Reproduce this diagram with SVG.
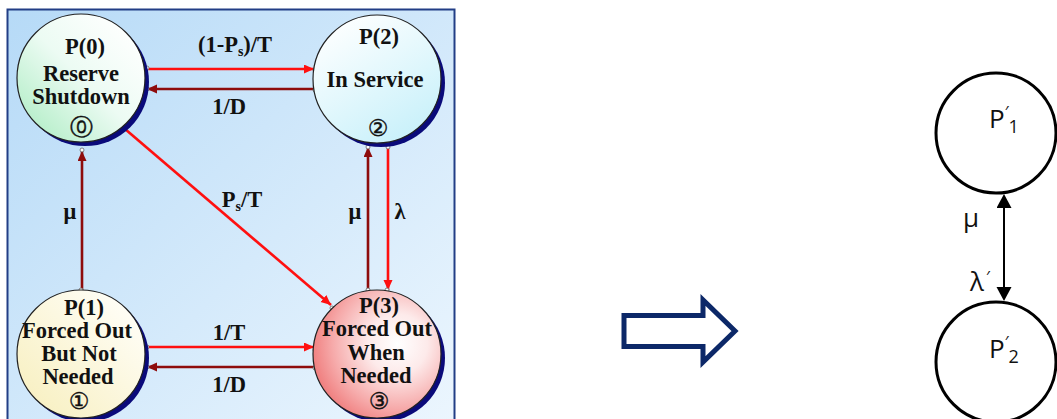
<svg xmlns="http://www.w3.org/2000/svg" width="1057" height="419" viewBox="0 0 1057 419">
<style>
.nt{font-family:"Liberation Serif",serif;font-weight:bold;font-size:22.5px;text-anchor:middle;fill:#111}
.cd{font-family:"DejaVu Sans",sans-serif;font-size:23px;text-anchor:middle;fill:#111;stroke:#111;stroke-width:0.4}
.ring{stroke:#222;stroke-width:1.2}
.shadow{fill:#0a0a7a}
.red{stroke:#ff1010;stroke-width:2.6;fill:none}
.dred{stroke:#8e0c0c;stroke-width:2.6;fill:none}
.pt{fill:#fff;stroke:#666;stroke-width:0.8}
.rt{font-family:"Open Sans","Liberation Sans",sans-serif;fill:#111}
.rn{fill:#fff;stroke:#000;stroke-width:3}
</style>
<defs>
<linearGradient id="bg" x1="0" y1="0" x2="1" y2="1">
<stop offset="0" stop-color="#b6daf7"/><stop offset="1" stop-color="#ecf6fe"/>
</linearGradient>
<linearGradient id="g0" x1="0.1" y1="0.9" x2="0.9" y2="0.1">
<stop offset="0" stop-color="#b4eec8"/><stop offset="0.5" stop-color="#ecfbf3"/><stop offset="1" stop-color="#ffffff"/>
</linearGradient>
<linearGradient id="g2" x1="0.2" y1="0" x2="0.8" y2="1">
<stop offset="0" stop-color="#ffffff"/><stop offset="1" stop-color="#c6f0fa"/>
</linearGradient>
<linearGradient id="g1" x1="0.1" y1="0.9" x2="0.9" y2="0.1">
<stop offset="0" stop-color="#f8f0c2"/><stop offset="1" stop-color="#fffef8"/>
</linearGradient>
<radialGradient id="g3" cx="0.66" cy="0.42" r="0.78">
<stop offset="0" stop-color="#ffffff"/><stop offset="0.3" stop-color="#fdeaea"/><stop offset="0.65" stop-color="#f6aaaa"/><stop offset="1" stop-color="#ec6464"/>
</radialGradient>
<marker id="mr" markerUnits="userSpaceOnUse" markerWidth="11" markerHeight="10" refX="10" refY="4.5" orient="auto">
<path d="M0,0 L10,4.5 L0,9 z" fill="#ff1010"/>
</marker>
<marker id="md" markerUnits="userSpaceOnUse" markerWidth="11" markerHeight="10" refX="10" refY="4.5" orient="auto">
<path d="M0,0 L10,4.5 L0,9 z" fill="#8e0c0c"/>
</marker>
<marker id="mb" markerUnits="userSpaceOnUse" markerWidth="15" markerHeight="16" refX="12" refY="7.5" orient="auto-start-reverse">
<path d="M0,0 L14,7.5 L0,15 z" fill="#000"/>
</marker>
</defs>

<rect x="0" y="0" width="1057" height="419" fill="#fff"/>
<rect id="panel" x="7.5" y="9.5" width="447" height="420" fill="url(#bg)" stroke="#223e86" stroke-width="2"/>

<g id="connectors">
<path class="red" d="M147,69 L314,69" marker-end="url(#mr)"/>
<path class="dred" d="M314,89 L147,89" marker-end="url(#md)"/>
<path class="red" d="M125,129 L331,305" marker-end="url(#mr)"/>
<path class="dred" d="M82,290 L82,151" marker-end="url(#md)"/>
<path class="dred" d="M368,290 L368,147" marker-end="url(#md)"/>
<path class="red" d="M388,147 L388,290" marker-end="url(#mr)"/>
<path class="red" d="M146,347 L314,347" marker-end="url(#mr)"/>
<path class="dred" d="M314,367 L147,367" marker-end="url(#md)"/>
<g>
<circle class="pt" cx="147" cy="68" r="2"/><circle class="pt" cx="147" cy="89" r="2"/>
<circle class="pt" cx="315" cy="70" r="2"/><circle class="pt" cx="315" cy="90" r="2"/>
<circle class="pt" cx="125" cy="128" r="2"/><circle class="pt" cx="82" cy="150" r="2"/>
<circle class="pt" cx="368" cy="147" r="2"/><circle class="pt" cx="388" cy="147" r="2"/>
<circle class="pt" cx="81" cy="290" r="2"/><circle class="pt" cx="368" cy="290" r="2"/>
<circle class="pt" cx="387" cy="290" r="2"/><circle class="pt" cx="332" cy="308" r="2"/>
<circle class="pt" cx="147" cy="347" r="2"/><circle class="pt" cx="315" cy="350" r="2"/>
<circle class="pt" cx="147" cy="367" r="2"/><circle class="pt" cx="315" cy="368" r="2"/>
</g>
<text class="nt" x="235" y="52">(1-P<tspan font-size="14" dy="4">s</tspan><tspan dy="-4">)/T</tspan></text>
<text class="nt" x="229" y="114">1/D</text>
<text class="nt" x="242" y="207">P<tspan font-size="14" dy="4">s</tspan><tspan dy="-4">/T</tspan></text>
<text class="nt" x="70" y="219">μ</text>
<text class="nt" x="355" y="219">μ</text>
<text class="nt" x="400" y="219">λ</text>
<text class="nt" x="229" y="340">1/T</text>
<text class="nt" x="229" y="392">1/D</text>
<text class="rt" x="963" y="227" font-size="26">μ</text>
<text class="rt" x="970" y="291" font-size="26">λ</text>
<text class="rt" x="986" y="283" font-size="17">′</text>
<path d="M1004,196 L1004,299" stroke="#000" stroke-width="2" marker-start="url(#mb)" marker-end="url(#mb)"/>
</g>

<g id="node-p0">
<circle class="shadow" cx="85" cy="82" r="64"/>
<circle class="ring" cx="81" cy="78" r="64" fill="url(#g0)"/>
<text class="nt" x="85" y="54">P(0)</text>
<text class="nt" x="81" y="81">Reserve</text>
<text class="nt" x="81" y="104">Shutdown</text>
<text class="cd" x="81" y="135">⓪</text>
</g>

<g id="node-p2">
<circle class="shadow" cx="381" cy="83" r="64"/>
<circle class="ring" cx="377" cy="79" r="64" fill="url(#g2)"/>
<text class="nt" x="379" y="44">P(2)</text>
<text class="nt" x="375" y="87">In Service</text>
<text class="cd" x="378" y="136">②</text>
</g>

<g id="node-p1">
<circle class="shadow" cx="85" cy="358" r="64"/>
<circle class="ring" cx="81" cy="354" r="64" fill="url(#g1)"/>
<text class="nt" x="84" y="315">P(1)</text>
<text class="nt" x="77" y="338">Forced Out</text>
<text class="nt" x="79" y="361">But Not</text>
<text class="nt" x="78" y="384">Needed</text>
<text class="cd" x="79" y="409">①</text>
</g>

<g id="node-p3">
<circle class="shadow" cx="381" cy="358" r="64"/>
<circle class="ring" cx="377" cy="354" r="64" fill="url(#g3)"/>
<text class="nt" x="379" y="313">P(3)</text>
<text class="nt" x="377" y="336">Forced Out</text>
<text class="nt" x="376" y="360">When</text>
<text class="nt" x="376" y="383">Needed</text>
<text class="cd" x="379" y="409">③</text>
</g>

<g id="big-arrow">
<polygon points="624,315.5 703,315.5 703,300 735,331 703,362 703,346.5 624,346.5" fill="#fff" stroke="#0c2868" stroke-width="5" stroke-linejoin="miter"/>
</g>

<g id="node-p1prime">
<circle class="rn" cx="996" cy="133" r="60"/>
<text class="rt" x="989" y="128" font-size="26">P<tspan font-size="17" dy="-10">′</tspan><tspan font-size="18" dy="15">1</tspan></text>
</g>

<g id="node-p2prime">
<circle class="rn" cx="996" cy="362" r="60"/>
<text class="rt" x="989" y="358" font-size="26">P<tspan font-size="17" dy="-10">′</tspan><tspan font-size="18" dy="15">2</tspan></text>
</g>
</svg>
